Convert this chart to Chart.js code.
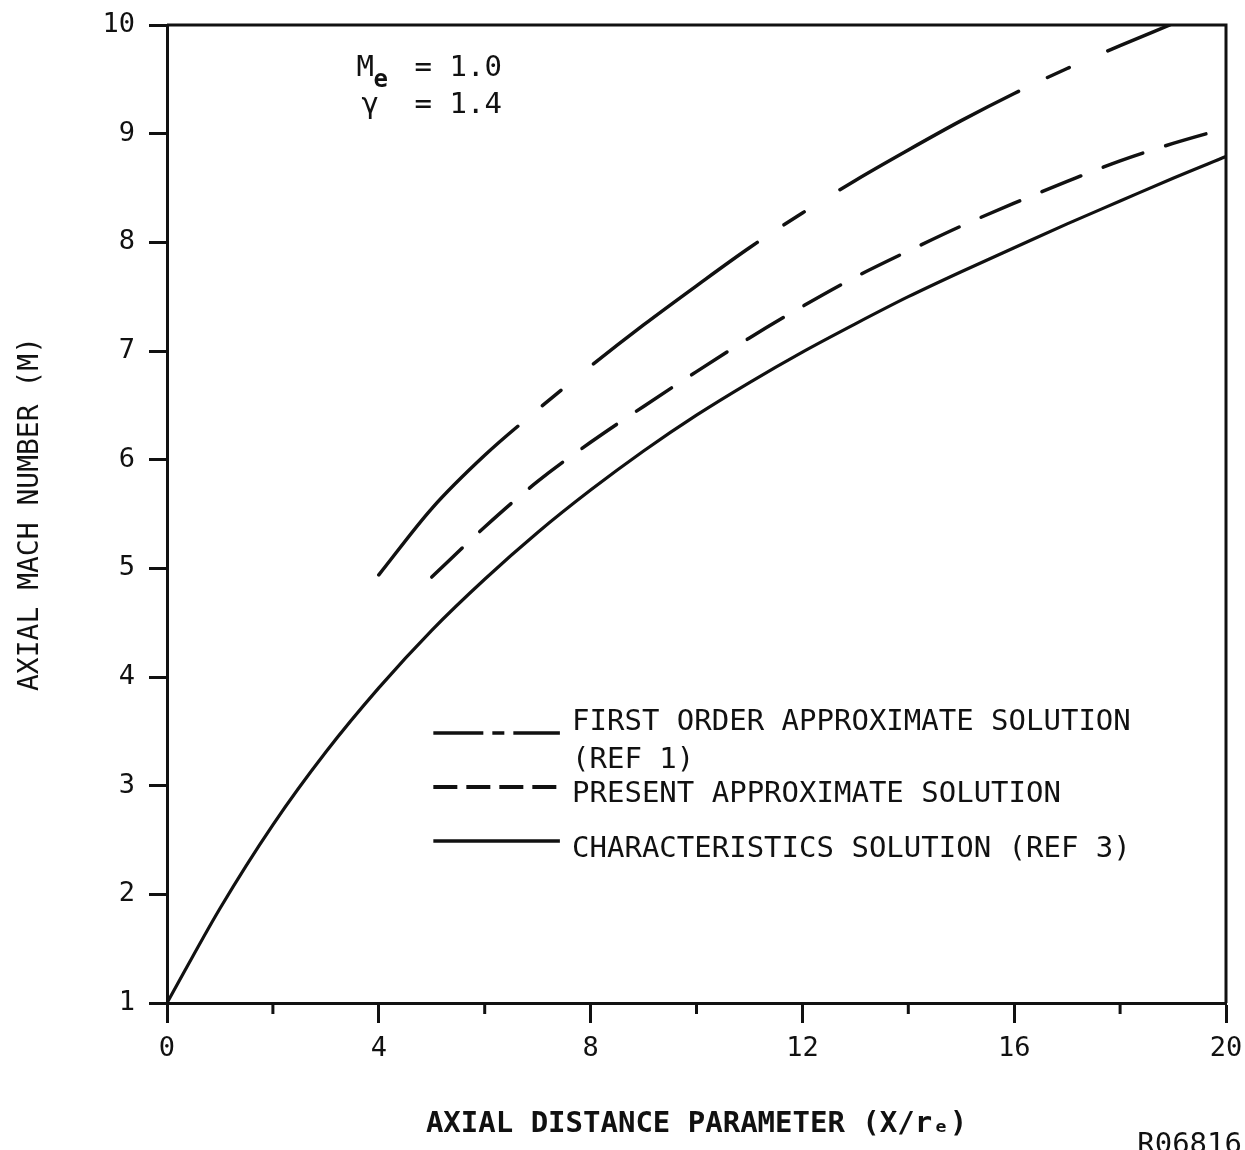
<!DOCTYPE html>
<html>
<head>
<meta charset="utf-8">
<script src="https://cdn.jsdelivr.net/npm/chart.js@4.4.1/dist/chart.umd.min.js"></script>
<style>
  html, body { margin: 0; padding: 0; background: #ffffff; }
  #wrap { width: 1245px; height: 1150px; position: relative; }
</style>
</head>
<body>
<div id="wrap"><canvas id="c" width="1245" height="1150"></canvas></div>
<script>
// ---- data ----
const firstOrderX = [4, 5, 6, 7, 8, 9, 10, 11, 12, 13, 14, 15, 16, 17, 18, 18.94];
const firstOrderM = [4.94, 5.55, 6.04, 6.46, 6.86, 7.24, 7.60, 7.95, 8.27, 8.57, 8.85, 9.12, 9.37, 9.60, 9.81, 10.0];

const presentX = [5, 6, 7, 8, 9, 10, 11, 12, 13, 14, 15, 16, 17, 18, 19, 20];
const presentM = [4.92, 5.38, 5.80, 6.16, 6.49, 6.81, 7.12, 7.41, 7.68, 7.92, 8.15, 8.36, 8.56, 8.75, 8.91, 9.05];

const charX = [0, 1, 2, 3, 4, 5, 6, 7, 8, 9, 10, 11, 12, 13, 14, 15, 16, 17, 18, 19, 20];
const charM = [1.0, 1.87, 2.64, 3.31, 3.90, 4.43, 4.90, 5.33, 5.72, 6.08, 6.41, 6.71, 6.99, 7.25, 7.50, 7.73, 7.95, 8.17, 8.38, 8.59, 8.79];

const seriesLabels = [
  ['FIRST ORDER APPROXIMATE SOLUTION', '(REF 1)'],
  ['PRESENT APPROXIMATE SOLUTION'],
  ['CHARACTERISTICS SOLUTION (REF 3)']
];
const xTitle = 'AXIAL DISTANCE PARAMETER (X/r\u2091)';
const yTitle = 'AXIAL MACH NUMBER (M)';
const paramM = '1.0';
const paramGamma = '1.4';
const figureId = 'R06816';

// ---- helpers ----
const pts = (xs, ys) => xs.map((x, i) => ({ x: x, y: ys[i] }));
const INK = '#111111';
const MONO = '"DejaVu Sans Mono", "Liberation Mono", monospace';

const dashFirst = [204, 32, 24, 42];
const dashPresent = [42, 24];

const overlay = {
  id: 'overlay',
  afterDraw(chart) {
    const ctx = chart.ctx;
    const a = chart.chartArea;
    const xs = chart.scales.x;
    ctx.save();
    // frame top and right
    ctx.strokeStyle = INK;
    ctx.lineWidth = 3;
    ctx.beginPath();
    ctx.moveTo(a.left, a.top);
    ctx.lineTo(a.right, a.top);
    ctx.lineTo(a.right, a.bottom);
    ctx.stroke();

    // minor x ticks (short)
    ctx.lineWidth = 3;
    for (let v = 2; v < 20; v += 4) {
      const px = xs.getPixelForValue(v);
      ctx.beginPath();
      ctx.moveTo(px, a.bottom);
      ctx.lineTo(px, a.bottom + 11);
      ctx.stroke();
    }

    // parameters text
    ctx.fillStyle = INK;
    ctx.textBaseline = 'alphabetic';
    ctx.textAlign = 'left';
    ctx.font = '29px ' + MONO;
    const px0 = xs.getPixelForValue(3.58);
    ctx.fillText('M', px0, 76);
    ctx.font = 'bold 24px ' + MONO;
    ctx.fillText('e', px0 + 17, 87);
    ctx.font = '29px ' + MONO;
    ctx.fillText('= ' + paramM, px0 + 58, 76);
    ctx.fillText('\u03b3', px0 + 5, 113);
    ctx.fillText('= ' + paramGamma, px0 + 58, 113);

    // legend
    const lx0 = xs.getPixelForValue(5.03), lx1 = xs.getPixelForValue(7.42);
    const tx = xs.getPixelForValue(7.65);
    const rows = [
      { y: 733, dash: [50, 9, 12, 9], w: 3.5, textY: 730 },
      { y: 787, dash: [24, 9], w: 4, textY: 802 },
      { y: 841, dash: [], w: 3.5, textY: 857 }
    ];
    ctx.font = '29px ' + MONO;
    rows.forEach((r, i) => {
      ctx.lineWidth = r.w;
      ctx.setLineDash(r.dash);
      ctx.beginPath();
      ctx.moveTo(lx0, r.y);
      ctx.lineTo(lx1, r.y);
      ctx.stroke();
      ctx.setLineDash([]);
      seriesLabels[i].forEach((t, j) => {
        ctx.fillText(t, tx, r.textY + j * 38);
      });
    });

    // figure id
    ctx.font = '29px ' + MONO;
    ctx.textAlign = 'right';
    ctx.fillText(figureId, 1242, 1153);
    ctx.restore();
  }
};

new Chart(document.getElementById('c'), {
  type: 'line',
  data: {
    datasets: [
      {
        label: seriesLabels[0].join(' '),
        data: pts(firstOrderX, firstOrderM),
        borderColor: INK, borderWidth: 3.5, borderDash: dashFirst,
        pointRadius: 0, fill: false, cubicInterpolationMode: 'monotone', borderCapStyle: 'round'
      },
      {
        label: seriesLabels[1].join(' '),
        data: pts(presentX, presentM),
        borderColor: INK, borderWidth: 3.5, borderDash: dashPresent,
        pointRadius: 0, fill: false, cubicInterpolationMode: 'monotone', borderCapStyle: 'round'
      },
      {
        label: seriesLabels[2].join(' '),
        data: pts(charX, charM),
        borderColor: INK, borderWidth: 3.2,
        pointRadius: 0, fill: false, cubicInterpolationMode: 'monotone'
      }
    ]
  },
  options: {
    responsive: false,
    animation: false,
    devicePixelRatio: 1,
    layout: { padding: { top: 25, right: 19, left: 0, bottom: 0 } },
    plugins: { legend: { display: false }, tooltip: { enabled: false } },
    scales: {
      x: {
        type: 'linear', min: 0, max: 20,
        afterFit(scale) { scale.height = 147; scale.paddingLeft = 0; scale.paddingRight = 0; },
        border: { display: true, color: INK, width: 3 },
        grid: {
          drawOnChartArea: false, drawTicks: true, tickLength: 20, tickWidth: 3,
          tickColor: (c) => (c.tick && Math.round(c.tick.value) % 4 !== 0) ? 'rgba(0,0,0,0)' : INK
        },
        ticks: {
          stepSize: 2, autoSkip: false, maxRotation: 0, padding: 10,
          color: INK, font: { family: MONO, size: 27 },
          callback: (v) => (Math.round(v) % 4 === 0 ? String(v) : '')
        },
        title: {
          display: true, text: xTitle, color: INK,
          font: { family: MONO, size: 29, weight: 'bold' },
          padding: { top: 0, bottom: 8 }
        }
      },
      y: {
        type: 'linear', min: 1, max: 10,
        afterFit(scale) { scale.width = 167; scale.paddingTop = 0; scale.paddingBottom = 0; },
        border: { display: true, color: INK, width: 3 },
        grid: { drawOnChartArea: false, drawTicks: true, tickLength: 18, tickWidth: 3, tickColor: INK },
        ticks: {
          stepSize: 1, padding: 14, color: INK,
          font: { family: MONO, size: 27 }
        },
        title: {
          display: true, text: yTitle, color: INK,
          font: { family: MONO, size: 28 },
          padding: { top: 14, bottom: 0 }
        }
      }
    }
  },
  plugins: [overlay]
});
</script>
</body>
</html>
